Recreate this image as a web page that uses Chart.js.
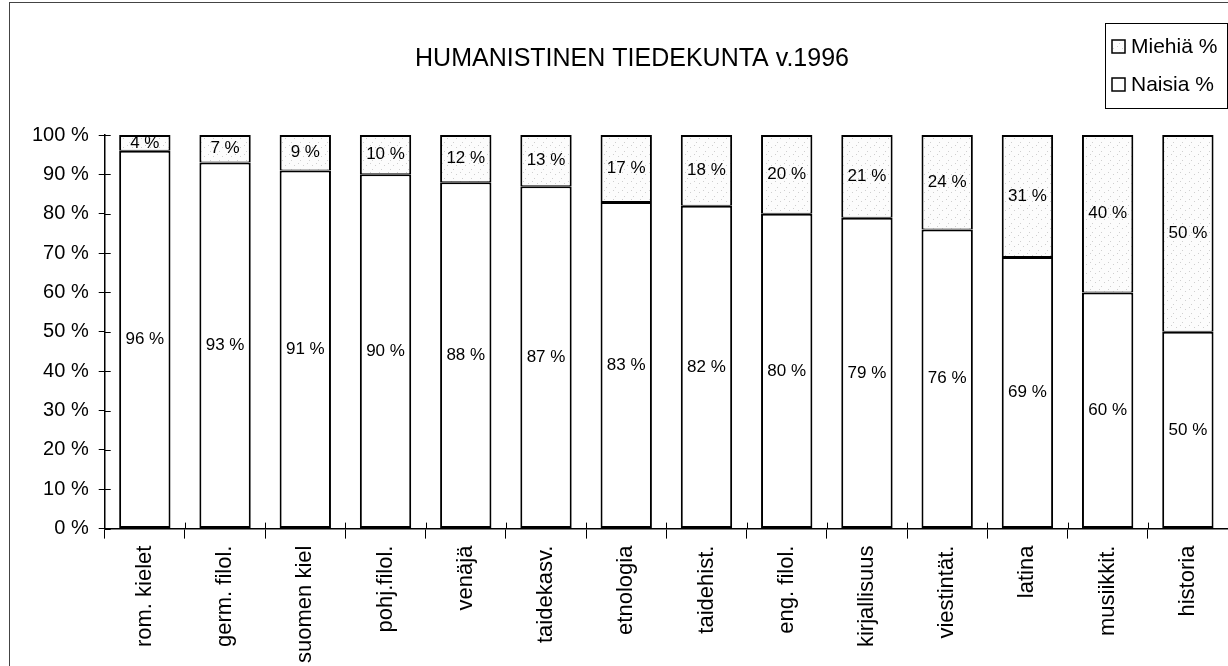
<!DOCTYPE html>
<html>
<head>
<meta charset="utf-8">
<script src="https://cdn.jsdelivr.net/npm/chart.js@4.4.1/dist/chart.umd.min.js"></script>
<style>
  body { margin: 0; background: #fff; }
  canvas { display: block; }
</style>
</head>
<body>
<canvas id="myChart" width="1228" height="666"></canvas>
<script>
var categories = ["rom. kielet", "germ. filol.", "suomen kiel", "pohj.filol.", "venäjä", "taidekasv.",
  "etnologia", "taidehist.", "eng. filol.", "kirjallisuus", "viestintät.", "latina", "musiikkit.", "historia"];
var naisia = [96, 93, 91, 90, 88, 87, 83, 82, 80, 79, 76, 69, 60, 50];
var miehia = [4, 7, 9, 10, 12, 13, 17, 18, 20, 21, 24, 31, 40, 50];
var seriesNames = ["Naisia %", "Miehiä %"];
var titleText = "HUMANISTINEN TIEDEKUNTA v.1996";

var FONT = "'Liberation Sans', Arial, sans-serif";

// light stipple fill like the scanned grey
function stipple() {
  var c = document.createElement("canvas");
  c.width = 9; c.height = 9;
  var g = c.getContext("2d");
  g.fillStyle = "#fcfcfc";
  g.fillRect(0, 0, 9, 9);
  g.fillStyle = "#cfcfcf";
  [[1, 1], [6, 3], [3, 7]].forEach(function (p) { g.fillRect(p[0], p[1], 1, 1); });
  return g.createPattern(c, "repeat");
}
var greyFill = stipple();

var decorations = {
  id: "decorations",
  afterDraw: function (chart) {
    var ctx = chart.ctx;
    var ys = chart.scales.y, xs = chart.scales.x;
    ctx.save();
    // outer frame
    ctx.strokeStyle = "#444";
    ctx.lineWidth = 1;
    ctx.strokeRect(9.5, 2.5, 1300, 700);

    // inner halves of the tick marks
    ctx.strokeStyle = "#000";
    ctx.lineWidth = 1;
    ys.ticks.forEach(function (t) {
      var py = Math.round(ys.getPixelForValue(t.value)) + 0.5;
      ctx.beginPath(); ctx.moveTo(ys.right, py); ctx.lineTo(ys.right + 6, py); ctx.stroke();
    });
    for (var i = 1; i < categories.length; i++) {
      var px = Math.round((xs.getPixelForValue(i - 1) + xs.getPixelForValue(i)) / 2) + 0.5;
      ctx.beginPath(); ctx.moveTo(px, xs.top); ctx.lineTo(px, xs.top - 6); ctx.stroke();
    }

    // title
    ctx.fillStyle = "#000";
    ctx.font = "25px " + FONT;
    ctx.textAlign = "center";
    ctx.textBaseline = "middle";
    ctx.fillText(titleText, 632, 59);

    // legend box
    ctx.strokeStyle = "#000";
    ctx.strokeRect(1105.5, 23.5, 122, 85);
    ctx.font = "21px " + FONT;
    ctx.textAlign = "left";
    var rows = [1, 0];
    rows.forEach(function (di, r) {
      var ds = chart.data.datasets[di];
      var cy = 47 + r * 38;
      ctx.fillStyle = ds.backgroundColor;
      ctx.fillRect(1112, cy - 7, 13, 13);
      ctx.lineWidth = 1.5;
      ctx.strokeRect(1112, cy - 7, 13, 13);
      ctx.fillStyle = "#000";
      ctx.fillText(ds.label, 1131, cy);
    });
    ctx.restore();
  },
  afterDatasetsDraw: function (chart) {
    var ctx = chart.ctx;
    ctx.save();
    ctx.font = "17px " + FONT;
    ctx.fillStyle = "#000";
    ctx.textAlign = "center";
    ctx.textBaseline = "middle";
    chart.data.datasets.forEach(function (ds, di) {
      chart.getDatasetMeta(di).data.forEach(function (bar, i) {
        var p = bar.getProps(["x", "y", "base"], true);
        ctx.fillText(ds.data[i] + " %", p.x, (p.y + p.base) / 2);
      });
    });
    ctx.restore();
  }
};

new Chart("myChart", {
  type: "bar",
  data: {
    labels: categories,
    datasets: [{
      label: seriesNames[0],
      data: naisia,
      backgroundColor: "#ffffff",
      borderColor: "#000",
      borderWidth: 2,
      borderSkipped: false
    }, {
      label: seriesNames[1],
      data: miehia,
      backgroundColor: greyFill,
      borderColor: "#000",
      borderWidth: { top: 2, left: 2, right: 2, bottom: 1 },
      borderSkipped: false
    }]
  },
  options: {
    responsive: false,
    animation: false,
    layout: { padding: { top: 135, left: 22, right: -4, bottom: -4 } },
    datasets: { bar: { categoryPercentage: 1, barPercentage: 0.64 } },
    plugins: {
      legend: { display: false },
      title: { display: false },
      tooltip: { enabled: false }
    },
    scales: {
      x: {
        stacked: true,
        border: { display: true, color: "#000", width: 1.5 },
        grid: { display: true, drawOnChartArea: false, color: "#000", tickLength: 10, offset: true },
        ticks: {
          color: "#000",
          font: { family: FONT, size: 22 },
          minRotation: 90, maxRotation: 90,
          padding: 7,
          autoSkip: false
        }
      },
      y: {
        stacked: true,
        min: 0, max: 100,
        border: { display: true, color: "#000", width: 1.5 },
        grid: { display: true, drawOnChartArea: false, color: "#000", tickLength: 6 },
        ticks: {
          stepSize: 10,
          color: "#000",
          padding: 10,
          font: { family: FONT, size: 20 },
          callback: function (v) { return v + " %"; }
        }
      }
    }
  },
  plugins: [decorations]
});
</script>
</body>
</html>
